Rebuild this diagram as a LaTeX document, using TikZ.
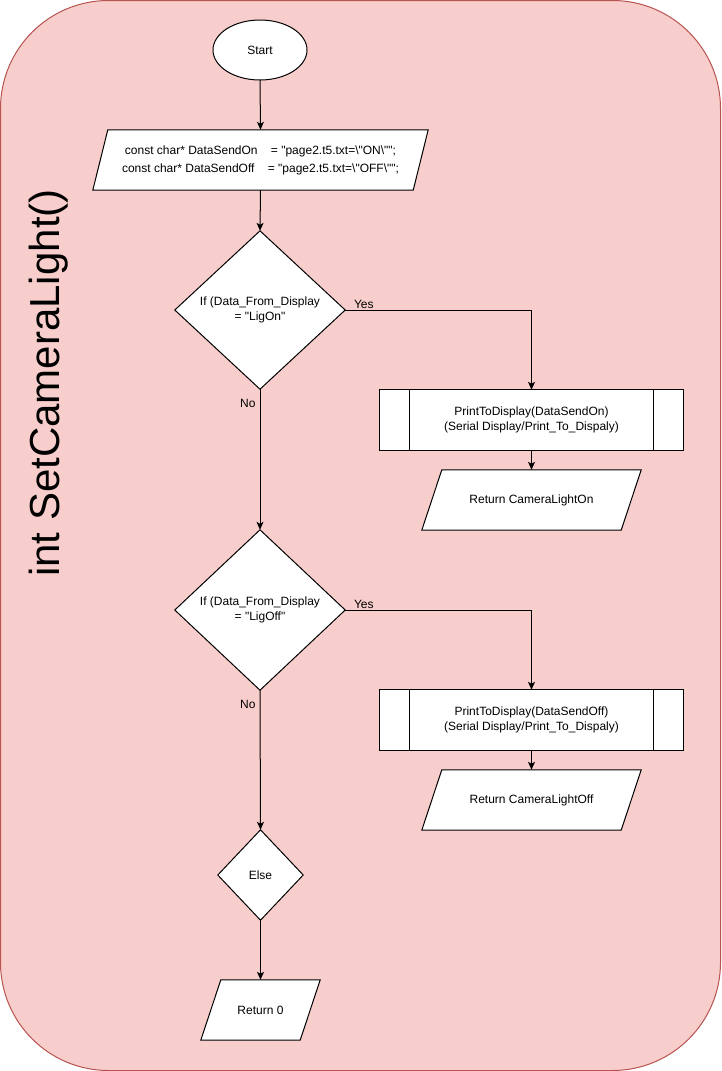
\documentclass[tikz,border=0pt]{standalone}
\usepackage{fontspec}
\setmainfont{Liberation Sans}[Ligatures=TeXOff]
\usetikzlibrary{arrows.meta,backgrounds,calc}
\definecolor{bgfill}{HTML}{F8CECC}
\definecolor{bgline}{HTML}{B85450}
\begin{document}
\begin{tikzpicture}[x=1pt,y=-1pt,
  txt/.style={font=\fontsize{12}{15}\selectfont, align=center, inner sep=0pt, rectangle},
  shapebox/.style={draw=black, fill=white, line width=1pt, line join=miter},
  arr/.style={draw=black, line width=1pt, -{Stealth[length=8pt,width=7pt,inset=2pt]}},
  lbl/.style={font=\fontsize{12}{14}\selectfont, inner sep=2pt},
]
\useasboundingbox (0,0) rectangle (721,1071);

% title
\node[font=\fontsize{42}{48}\selectfont, rotate=90, inner sep=0pt] (title) at (49,383) {int SetCameraLight()};

% nodes (text holders)
\node[txt, minimum width=94pt, minimum height=60pt] (start) at (260,50) {Start};
\node[txt, minimum width=335pt, minimum height=60pt] (decl) at (260.5,160)
  {const char* DataSendOn\hspace{10pt} = "page2.t5.txt=\textbackslash"ON\textbackslash"";\\[3pt]
   const char* DataSendOff\hspace{10pt} = "page2.t5.txt=\textbackslash"OFF\textbackslash"";};
\node[txt, minimum width=170pt, minimum height=158pt] (d1) at (260,310)
  {If (Data\_From\_Display\\= "LigOn"};
\node[txt, minimum width=303pt, minimum height=60pt] (p1) at (531.5,420)
  {PrintToDisplay(DataSendOn)\\(Serial Display/Print\_To\_Dispaly)};
\node[txt, minimum width=219pt, minimum height=60pt] (r1) at (531.5,500) {Return CameraLightOn};
\node[txt, minimum width=170pt, minimum height=160pt] (d2) at (260,610)
  {If (Data\_From\_Display\\= "LigOff"};
\node[txt, minimum width=303pt, minimum height=60pt] (p2) at (531.5,720)
  {PrintToDisplay(DataSendOff)\\(Serial Display/Print\_To\_Dispaly)};
\node[txt, minimum width=219pt, minimum height=60pt] (r2) at (531.5,800) {Return CameraLightOff};
\node[txt, minimum width=85pt, minimum height=90pt] (els) at (260.5,875) {Else};
\node[txt, minimum width=119pt, minimum height=60pt] (r0) at (260.5,1010) {Return 0};

% shapes on background layer
\begin{scope}[on background layer]
  \draw[bgline, fill=bgfill, line width=1pt, rounded corners=108pt] (0.5,0.5) rectangle (720.5,1070.5);
  \draw[shapebox] (start.center) ellipse [x radius=47pt, y radius=30pt];
  \foreach \n/\s in {decl/15, r1/20, r2/20, r0/20} {
    \draw[shapebox] ($(\n.north west)+(\s pt,0)$) -- (\n.north east)
      -- ($(\n.south east)-(\s pt,0)$) -- (\n.south west) -- cycle;
  }
  \foreach \n in {d1, d2, els} {
    \draw[shapebox] (\n.north) -- (\n.east) -- (\n.south) -- (\n.west) -- cycle;
  }
  \foreach \n in {p1, p2} {
    \draw[shapebox] (\n.north west) rectangle (\n.south east);
    \draw[line width=1pt] ($(\n.north west)+(30pt,0)$) -- ($(\n.south west)+(30pt,0)$);
    \draw[line width=1pt] ($(\n.north east)-(30pt,0)$) -- ($(\n.south east)-(30pt,0)$);
  }
\end{scope}

% connectors
\draw[arr] (start.south) -- (decl.north);
\draw[arr] (decl.south) -- (d1.north);
\draw[arr] (d1.east) -| node[lbl, pos=0.05, anchor=south, inner sep=1pt] {Yes} (p1.north);
\draw[arr] (p1.south) -- (r1.north);
\draw[arr] (d1.south) -- node[lbl, pos=0.1, anchor=east, inner sep=4pt] {No} (d2.north);
\draw[arr] (d2.east) -| node[lbl, pos=0.05, anchor=south, inner sep=1pt] {Yes} (p2.north);
\draw[arr] (p2.south) -- (r2.north);
\draw[arr] (d2.south) -- node[lbl, pos=0.1, anchor=east, inner sep=4pt] {No} (els.north);
\draw[arr] (els.south) -- (r0.north);
\end{tikzpicture}
\end{document}
